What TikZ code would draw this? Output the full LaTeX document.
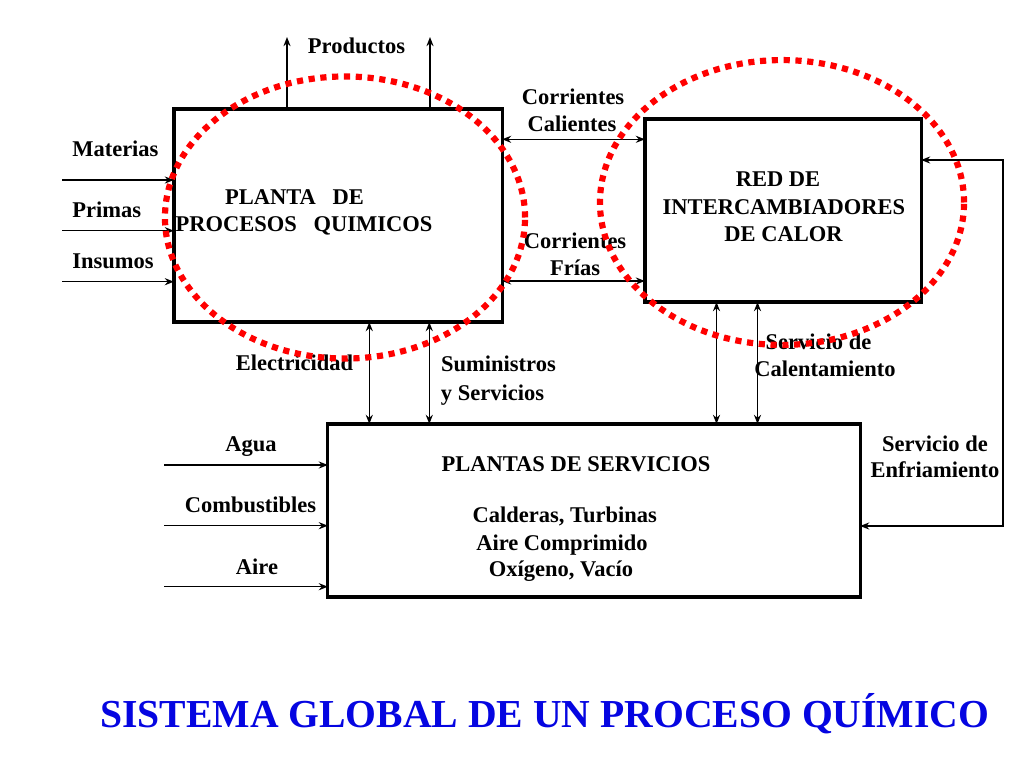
\documentclass[tikz,border=0pt]{standalone}
\usepackage{fontspec}
\setmainfont{Liberation Serif}
\usetikzlibrary{arrows.meta}
\definecolor{azultitulo}{RGB}{5,5,225}

\begin{document}
\begin{tikzpicture}[>={Stealth[length=6.5pt,width=5pt]}, x=0.025cm, y=-0.025cm,
    bloque/.style={draw, line width=2.2pt, outer sep=0pt, inner sep=0pt},
    txt/.style={font=\bfseries\fontsize{16}{19.2}\selectfont, inner sep=0pt, anchor=base},
    flecha/.style={line width=1.1pt},
    punteado/.style={red, line width=4.4pt, dash pattern=on 4.4pt off 4pt}]
    \useasboundingbox (0,0) rectangle (1024,768);
    % bloques
    \node[bloque, minimum width=8.2cm, minimum height=5.325cm] (planta) at (338,215.5) {};
    \node[bloque, minimum width=6.9cm, minimum height=4.575cm] (red) at (783,210.5) {};
    \node[bloque, minimum width=13.3cm, minimum height=4.325cm] (servicios) at (594,510.5) {};
    % textos de los bloques
    \node[txt] (t1) at (294.5,204) {PLANTA~~~DE};
    \node[txt] (t2) at (304,231.3) {PROCESOS~~~QUIMICOS};
    \node[txt] (t3) at (778,186.7) {RED DE};
    \node[txt] (t4) at (784,214) {INTERCAMBIADORES};
    \node[txt] (t5) at (783.5,241) {DE CALOR};
    \node[txt] (t6) at (576,471.7) {PLANTAS DE SERVICIOS};
    \node[txt] (t7) at (564.7,522.3) {Calderas, Turbinas};
    \node[txt] (t8) at (562,550) {Aire Comprimido};
    \node[txt] (t9) at (561,576.7) {Oxígeno, Vacío};
    % productos
    \coordinate (prodA) at (287,37);
    \coordinate (prodB) at (430,37);
    \draw[flecha,->] (prodA |- planta.north) -- (prodA);
    \draw[flecha,->] (prodB |- planta.north) -- (prodB);
    \node[txt] (productos) at (356.5,54) {Productos};
    % entradas a la planta
    \coordinate (mat) at (62,180);
    \coordinate (pri) at (62,230.7);
    \coordinate (ins) at (62,281.7);
    \draw[flecha,->] (mat) -- (mat -| planta.west);
    \draw[flecha,->] (pri) -- (pri -| planta.west);
    \draw[flecha,->] (ins) -- (ins -| planta.west);
    \node[txt, anchor=base west] (materias) at (72,156.7) {Materias};
    \node[txt, anchor=base west] (primas) at (72,217.7) {Primas};
    \node[txt, anchor=base west] (insumos) at (72,268) {Insumos};
    % corrientes
    \coordinate (cal) at (574,139.3);
    \coordinate (fri) at (574,281);
    \draw[flecha,<->] (cal -| planta.east) -- (cal -| red.west);
    \draw[flecha,<->] (fri -| planta.east) -- (fri -| red.west);
    \node[txt] (c1) at (573,105) {Corrientes};
    \node[txt] (c2) at (572,131.7) {Calientes};
    \node[txt] (c3) at (575,248) {Corrientes};
    \node[txt] (c4) at (575,275) {Frías};
    % planta - servicios
    \coordinate (elec) at (369.3,370);
    \coordinate (sum) at (429.3,370);
    \draw[flecha,<->] (elec |- planta.south) -- (elec |- servicios.north);
    \draw[flecha,<->] (sum |- planta.south) -- (sum |- servicios.north);
    \node[txt] (electricidad) at (294.5,370.7) {Electricidad};
    \node[txt] (s1) at (498.5,371) {Suministros};
    \node[txt] (s2) at (492.5,400.7) {y Servicios};
    % red - servicios
    \coordinate (calA) at (716.5,360);
    \coordinate (calB) at (757.5,360);
    \draw[flecha,<->] (calA |- red.south) -- (calA |- servicios.north);
    \draw[flecha,<->] (calB |- red.south) -- (calB |- servicios.north);
    \node[txt] (sc1) at (818.5,349) {Servicio de};
    \node[txt] (sc2) at (825,376.7) {Calentamiento};
    % enfriamiento
    \coordinate (enfA) at (1003,160);
    \coordinate (enfB) at (1003,526);
    \draw[flecha,<->] (enfA -| red.east) -- (enfA) -- (enfB) -- (enfB -| servicios.east);
    \node[txt] (se1) at (935,451) {Servicio de};
    \node[txt] (se2) at (935,477.7) {Enfriamiento};
    % entradas a servicios
    \coordinate (agua) at (164,465);
    \coordinate (comb) at (164,525.7);
    \coordinate (aire) at (164,586.7);
    \draw[flecha,->] (agua) -- (agua -| servicios.west);
    \draw[flecha,->] (comb) -- (comb -| servicios.west);
    \draw[flecha,->] (aire) -- (aire -| servicios.west);
    \node[txt] (a1) at (251,451.7) {Agua};
    \node[txt] (a2) at (250.5,512.7) {Combustibles};
    \node[txt] (a3) at (257,574) {Aire};
    % elipses punteadas
    \draw[punteado] (345,217.5) ellipse [x radius=4.5cm, y radius=3.525cm];
    \draw[punteado] (782,202.5) ellipse [x radius=4.55cm, y radius=3.56cm];
    % titulo
    \node[txt, anchor=base west, font=\bfseries\fontsize{28.2}{32}\selectfont, text=azultitulo] (titulo) at (100,727) {SISTEMA GLOBAL DE UN PROCESO QUÍMICO};
\end{tikzpicture}
\end{document}
